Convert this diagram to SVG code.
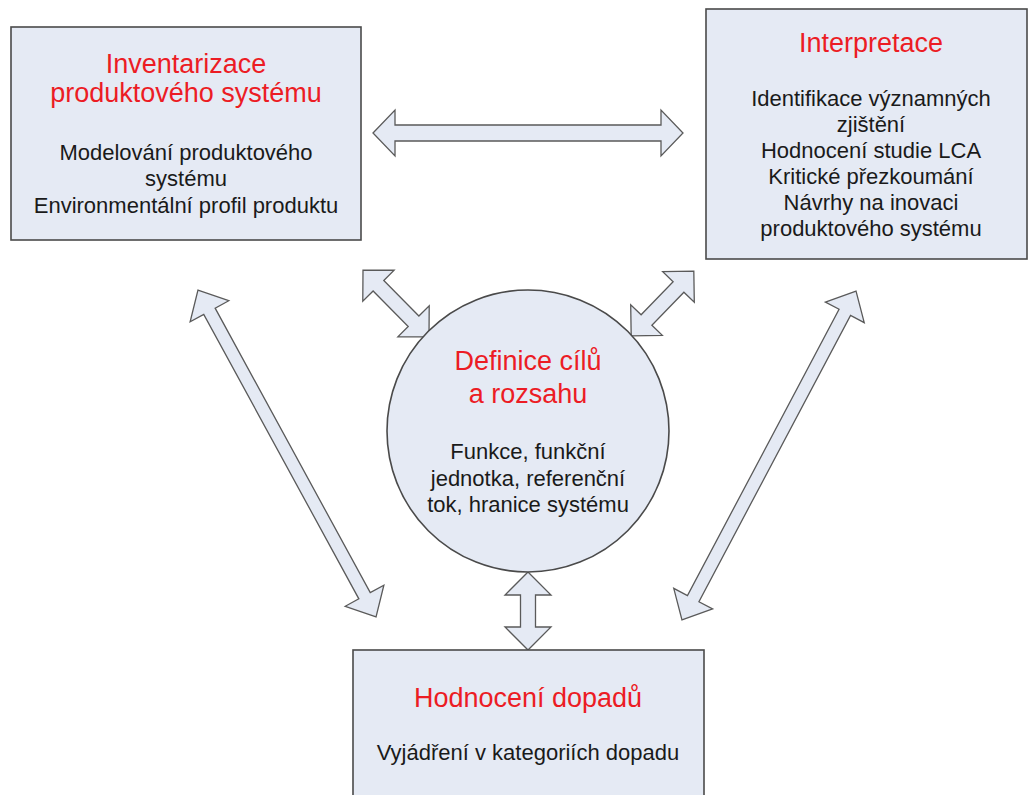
<svg xmlns="http://www.w3.org/2000/svg" width="1029" height="795" viewBox="0 0 1029 795">
<style>
.box{fill:#e5eaf4;stroke:#4a4a4a;stroke-width:1.6}
.arr{fill:#e5eaf4;stroke:#5a5a5a;stroke-width:1.3;stroke-linejoin:miter}
.t{font-family:"Liberation Sans",Arial,sans-serif;font-size:27px;fill:#ec1c24;text-anchor:middle}
.b{font-family:"Liberation Sans",Arial,sans-serif;font-size:22px;fill:#1a1a1a;text-anchor:middle}
</style>
<rect width="1029" height="795" fill="#ffffff"/>
<g id="connectors">
<polygon class="arr" transform="translate(528,133)" points="-155,0 -133,-23 -133,-8 133,-8 133,-23 155,0 133,23 133,8 -133,8 -133,23"/>
<polygon class="arr" transform="translate(287,453.5) rotate(61.4)" points="-186,0 -162,-22 -162,-6.5 162,-6.5 162,-22 186,0 162,22 162,6.5 -162,6.5 -162,22"/>
<polygon class="arr" transform="translate(769,455.5) rotate(117.9)" points="-186,0 -162,-22 -162,-6.5 162,-6.5 162,-22 186,0 162,22 162,6.5 -162,6.5 -162,22"/>
<polygon class="arr" transform="translate(396,303.5) rotate(45.4)" points="-47,0 -25,-22 -25,-7.5 25,-7.5 25,-22 47,0 25,22 25,7.5 -25,7.5 -25,22"/>
<polygon class="arr" transform="translate(662.5,303.5) rotate(134.1)" points="-45,0 -23,-22 -23,-7.5 23,-7.5 23,-22 45,0 23,22 23,7.5 -23,7.5 -23,22"/>
<polygon class="arr" transform="translate(528,611) rotate(90)" points="-39,0 -16,-23 -16,-7.5 16,-7.5 16,-23 39,0 16,23 16,7.5 -16,7.5 -16,23"/>
</g>
<g id="inventarizace">
<rect class="box" x="11" y="27" width="350" height="213"/>
<text class="t" x="186" y="73">Inventarizace</text>
<text class="t" x="186" y="102">produktového systému</text>
<text class="b" x="186" y="160">Modelování produktového</text>
<text class="b" x="186" y="186">systému</text>
<text class="b" x="186" y="213">Environmentální profil produktu</text>
</g>
<g id="interpretace">
<rect class="box" x="706" y="9" width="321" height="250"/>
<text class="t" x="871" y="52">Interpretace</text>
<text class="b" x="871" y="106">Identifikace významných</text>
<text class="b" x="871" y="132">zjištění</text>
<text class="b" x="871" y="158">Hodnocení studie LCA</text>
<text class="b" x="871" y="184">Kritické přezkoumání</text>
<text class="b" x="871" y="210">Návrhy na inovaci</text>
<text class="b" x="871" y="236">produktového systému</text>
</g>
<g id="definice">
<circle class="box" cx="528" cy="431" r="141" stroke-width="1.3"/>
<text class="t" x="528" y="370">Definice cílů</text>
<text class="t" x="528" y="403">a rozsahu</text>
<text class="b" x="528" y="459">Funkce, funkční</text>
<text class="b" x="528" y="486">jednotka, referenční</text>
<text class="b" x="528" y="512">tok, hranice systému</text>
</g>
<g id="hodnoceni">
<rect class="box" x="353" y="650" width="351" height="160"/>
<text class="t" x="528" y="707">Hodnocení dopadů</text>
<text class="b" x="528" y="760">Vyjádření v kategoriích dopadu</text>
</g>
</svg>
